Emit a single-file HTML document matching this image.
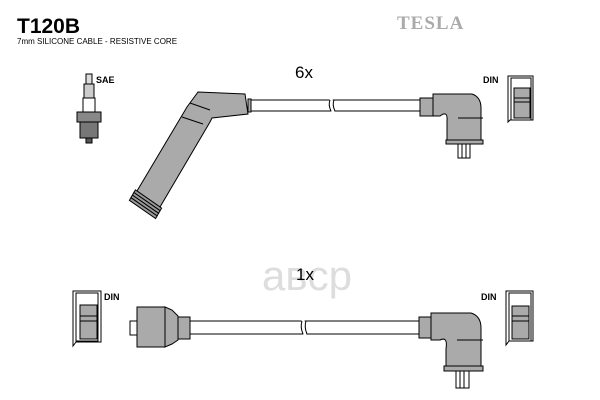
<!DOCTYPE html>
<html><head><meta charset="utf-8"><style>
html,body{margin:0;padding:0;background:#fff;width:600px;height:400px;overflow:hidden}
svg{display:block}
</style></head><body>
<svg width="600" height="400" viewBox="0 0 600 400" xmlns="http://www.w3.org/2000/svg" font-family="Liberation Sans, sans-serif">
<rect width="600" height="400" fill="#fff"/>
<text x="17" y="33" font-size="21" font-weight="bold" fill="#000">T120B</text>
<text x="17" y="44" font-size="8" fill="#000">7mm SILICONE CABLE - RESISTIVE CORE</text>
<text x="397" y="29" font-size="19" font-weight="bold" font-family="Liberation Serif, serif" fill="#aaa" letter-spacing="1">TESLA</text>
<text x="295" y="78" font-size="17" fill="#000">6x</text>
<text x="262" y="290" font-size="42" fill="#ddd">aвcp</text>
<text x="296" y="280" font-size="17" fill="#000">1x</text>

<g stroke="#000" stroke-width="1" fill="#aaa">
<!-- spark plug -->
<rect x="86" y="74" width="6" height="10" fill="#ddd"/>
<rect x="84" y="84" width="10" height="14" fill="#ccc"/>
<rect x="83" y="98" width="12" height="14" fill="#fff"/>
<rect x="77" y="112" width="24" height="10" fill="#888"/>
<rect x="80" y="122" width="18" height="16" fill="#777"/>
<rect x="86" y="138" width="6" height="5" fill="#555"/>

<!-- top left boot -->
<polygon points="198,92 245,94 248,114 212,118 210,122 160,207 137,191 187,107"/>
<rect x="248" y="99" width="3" height="13"/>
<line x1="190" y1="103" x2="210" y2="110"/>
<line x1="182" y1="117" x2="203" y2="124"/>
<g fill="#999">
<polygon points="135.4,189.9 161.6,208.1 160.1,210.7 133.9,192.5"/>
<polygon points="135.4,189.9 161.6,208.1 160.1,210.7 133.9,192.5" transform="translate(-1.5,2.6)"/>
<polygon points="135.4,189.9 161.6,208.1 160.1,210.7 133.9,192.5" transform="translate(-3,5.2)"/>
<polygon points="135.4,189.9 161.6,208.1 160.1,210.7 133.9,192.5" transform="translate(-4.5,7.8)"/>
</g>

<!-- top cable -->
<rect x="251" y="100" width="169" height="11" fill="#fff"/>
<line x1="331" y1="99" x2="333" y2="112" stroke="#fff" stroke-width="3"/>
<path d="M330 100 q-2 5 1 11 M334 100 q-2 5 1 11" fill="none"/>

<!-- top right boot -->
<rect x="420" y="98" width="13" height="18"/>
<path d="M433 94 H472 Q481 97 481 108 V142 H447 V121 Q448 110 440 116 L433 116 Z"/>
<line x1="458" y1="118" x2="483" y2="118"/>
<rect x="446" y="140" width="37" height="4"/>
<rect x="458" y="144" width="12" height="14" fill="#fff"/>
<line x1="462" y1="144" x2="462" y2="158"/><line x1="466" y1="144" x2="466" y2="158"/>

<!-- top DIN -->
<path d="M508 76 H533 V120 H510 L508 122 Z" fill="#fff"/>
<rect x="511" y="78" width="20" height="42" fill="#fff"/>
<rect x="514" y="88" width="16" height="30"/>
<line x1="514" y1="98" x2="530" y2="98"/><line x1="514" y1="102" x2="530" y2="102"/>

<!-- bottom left DIN -->
<path d="M73 291 H101 V342 H76 L73 346 Z" fill="#fff"/>
<rect x="76" y="293" width="22" height="48" fill="#fff"/>
<rect x="80" y="305" width="17" height="34"/>
<line x1="80" y1="316" x2="97" y2="316"/><line x1="80" y1="321" x2="97" y2="321"/>

<!-- bottom left connector -->
<rect x="130" y="321" width="7" height="14" fill="#fff"/>
<rect x="137" y="307" width="28" height="40"/>
<polygon points="165,307 172,310 178,316 178,340 172,344 165,347"/>
<rect x="178" y="317" width="12" height="22"/>

<!-- bottom cable -->
<rect x="190" y="321" width="230" height="13" fill="#fff"/>
<line x1="303" y1="320" x2="305" y2="335" stroke="#fff" stroke-width="3"/>
<path d="M302 321 q-2 6 1 13 M306 321 q-2 6 1 13" fill="none"/>

<!-- bottom right boot -->
<rect x="419" y="317" width="12" height="21"/>
<path d="M431 313 H471 Q481 316 481 328 V368 H446 V349 Q448 336 440 340 L431 340 Z"/>
<line x1="457" y1="340" x2="483" y2="340"/>
<rect x="444" y="366" width="39" height="5"/>
<rect x="456" y="371" width="13" height="17" fill="#fff"/>
<line x1="460" y1="371" x2="460" y2="388"/><line x1="464" y1="371" x2="464" y2="388"/>

<!-- bottom right DIN -->
<path d="M506 291 H533 V341 H509 L506 345 Z" fill="#fff"/>
<rect x="509" y="293" width="22" height="48" fill="#fff"/>
<rect x="512" y="306" width="17" height="33"/>
<line x1="512" y1="316" x2="529" y2="316"/><line x1="512" y1="321" x2="529" y2="321"/>
</g>
<g font-size="9" font-weight="bold" fill="#000">
<text x="96" y="83">SAE</text>
<text x="483" y="83">DIN</text>
<text x="104" y="300">DIN</text>
<text x="481" y="300">DIN</text>
</g>
</svg>
</body></html>
